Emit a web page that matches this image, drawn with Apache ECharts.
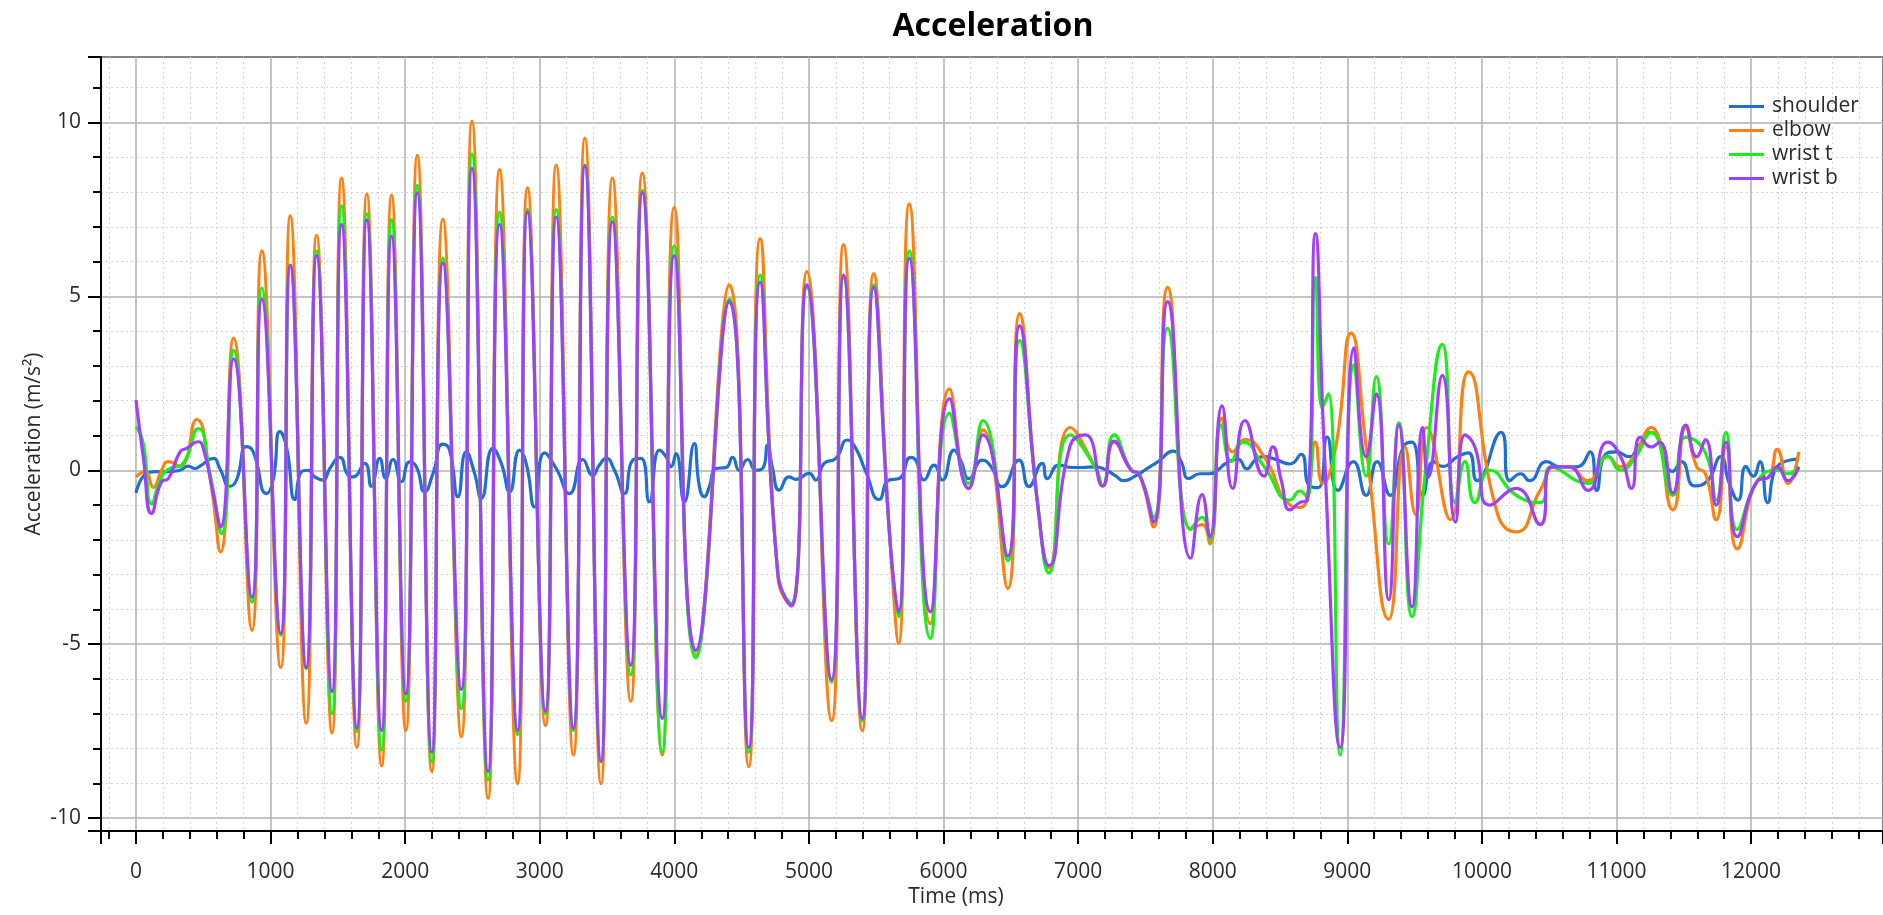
<!DOCTYPE html>
<html>
<head>
<meta charset="utf-8">
<script src="https://cdn.jsdelivr.net/npm/echarts@6/dist/echarts.min.js"></script>
<style>
html,body{margin:0;padding:0;background:#fff;}
#chart{width:1883px;height:915px;}
</style>
</head>
<body>
<div id="chart"></div>
<script>
// ---- data: [time (ms), acceleration (m/s^2)] ----
const seriesNames = ['shoulder', 'elbow', 'wrist t', 'wrist b'];
const seriesColors = ['#1f6fd0', '#ff8010', '#1aee1a', '#9f3fff'];

const shoulder = [[0,-0.65],[79,-0.09],[141,-0.04],[228,-0.04],[327,0],[388,0.12],[438,0.05],[475,0.12],[574,0.34],[623,0.05],[698,-0.46],[747,-0.28],[821,0.68],[871,0.53],[970,-0.67],[1019,-0.28],[1069,1.11],[1118,0.68],[1180,-0.84],[1230,-0.04],[1279,0],[1328,-0.19],[1390,-0.28],[1440,0.05],[1514,0.37],[1576,-0.14],[1613,-0.19],[1700,0.2],[1749,-0.46],[1811,0.34],[1855,-0.23],[1910,0.31],[1972,-0.33],[2033,0.24],[2083,0.1],[2145,-0.62],[2207,-0.09],[2281,0.75],[2330,0.58],[2392,-0.76],[2454,0.53],[2516,-0.09],[2565,-0.81],[2652,0.63],[2714,0.2],[2776,-0.62],[2850,0.58],[2899,0.2],[2961,-1.05],[3035,0.5],[3122,0.05],[3221,-0.67],[3320,0.31],[3394,-0.14],[3443,0.15],[3493,0.34],[3555,0],[3629,-0.67],[3691,0.29],[3753,0.34],[3814,-0.91],[3889,0.58],[3938,0.39],[3975,0.1],[4012,0.48],[4074,-0.91],[4148,0.77],[4186,-0.47],[4223,-0.76],[4260,-0.47],[4309,0.05],[4383,0.08],[4433,0.37],[4482,0],[4544,0.31],[4606,0],[4656,0.05],[4693,0.72],[4730,0.05],[4779,-0.57],[4853,-0.19],[4903,-0.26],[5002,-0.09],[5051,-0.28],[5113,0.2],[5200,0.34],[5286,0.87],[5348,0.63],[5422,-0.04],[5521,-0.84],[5595,-0.28],[5670,-0.24],[5756,0.37],[5793,0.29],[5855,-0.28],[5930,0.15],[5991,-0.28],[6078,0.58],[6127,0.29],[6189,-0.24],[6288,0.29],[6350,0.12],[6437,-0.47],[6560,0.29],[6634,-0.47],[6733,0.2],[6771,-0.24],[6857,0.15],[6956,0.08],[7030,0.08],[7125,0.1],[7210,0],[7281,-0.17],[7338,-0.3],[7423,-0.17],[7509,0.04],[7594,0.25],[7708,0.55],[7765,0.25],[7822,-0.24],[7907,-0.1],[7978,-0.1],[8049,0.04],[8090,0.18],[8187,0.32],[8252,0.04],[8317,0.3],[8381,0.39],[8462,0.32],[8575,0.18],[8656,0.46],[8720,-0.45],[8785,-0.5],[8850,0.95],[8930,-0.58],[9044,0.25],[9140,-0.72],[9221,0.25],[9318,-0.72],[9415,0.67],[9480,0.81],[9560,-0.72],[9641,0.25],[9706,0.11],[9819,0.39],[9900,0.5],[9964,-0.3],[10142,1.09],[10207,-0.3],[10288,-0.1],[10352,-0.3],[10481,0.25],[10578,0.1],[10708,0.1],[10804,0.53],[10853,-0.58],[10918,0.46],[10998,0.53],[11095,0.39],[11160,0.67],[11257,1.09],[11418,-0.03],[11483,0.25],[11580,-0.45],[11677,-0.3],[11774,0.39],[11838,-0.38],[11903,-0.86],[11961,0.11],[12016,-0.17],[12065,0.25],[12123,-0.93],[12194,0.11],[12355,0.32]];

const elbow = [[0,-0.19],[67,-0.04],[129,-0.49],[190,0],[240,0.25],[327,0.12],[450,1.46],[549,-0.19],[628,-2.35],[725,3.8],[861,-4.6],[935,6.31],[1075,-5.67],[1146,7.31],[1265,-7.27],[1342,6.75],[1456,-7.55],[1527,8.4],[1641,-7.97],[1715,7.94],[1825,-8.5],[1899,7.91],[2005,-7.48],[2090,9.05],[2198,-8.66],[2280,7.21],[2417,-7.66],[2496,10.03],[2616,-9.43],[2701,8.64],[2835,-9.01],[2909,8.12],[3042,-7.34],[3122,8.77],[3250,-8.18],[3335,9.55],[3455,-9.01],[3540,8.4],[3676,-6.64],[3762,8.54],[3910,-8.18],[4000,7.56],[4159,-5.32],[4409,5.33],[4552,-8.52],[4637,6.66],[4770,-3.1],[4870,-3.9],[4984,5.71],[5168,-7.2],[5257,6.49],[5396,-7.48],[5481,5.65],[5600,-1.9],[5666,-4.97],[5746,7.66],[5902,-4.41],[6044,2.34],[6186,-0.52],[6292,1.16],[6477,-3.4],[6565,4.5],[6700,-1.0],[6784,-2.81],[6940,1.23],[7125,0.1],[7182,-0.45],[7267,0.81],[7395,0.0],[7452,-0.1],[7560,-1.63],[7665,5.26],[7836,-1.7],[7921,-1.56],[7978,-2.12],[8069,1.5],[8148,0.53],[8239,0.88],[8381,0.39],[8575,-1.0],[8646,-1.07],[8704,-0.72],[8763,0.81],[8817,-0.38],[8914,0.67],[9027,3.94],[9140,0.67],[9308,-4.28],[9428,0.67],[9509,-1.28],[9590,1.23],[9765,-1.42],[9900,2.83],[10118,-1.28],[10255,-1.77],[10433,-0.58],[10546,0.1],[10643,0.1],[10788,-0.3],[10934,0.4],[11031,0.1],[11111,0.3],[11257,1.23],[11418,-1.14],[11515,1.23],[11596,0.1],[11661,-0.1],[11741,-1.42],[11813,0.67],[11897,-2.26],[12049,-0.3],[12129,-0.2],[12194,0.6],[12275,-0.38],[12355,0.53]];

const wristT = [[0,1.25],[54,0.77],[116,-0.96],[190,-0.19],[252,0.05],[339,0.15],[463,1.2],[549,-0.09],[636,-1.82],[725,3.45],[861,-3.79],[935,5.24],[1075,-4.74],[1146,5.9],[1265,-5.7],[1342,6.3],[1456,-6.99],[1527,7.6],[1641,-7.5],[1715,7.38],[1825,-8.04],[1899,7.2],[2005,-6.64],[2090,8.19],[2198,-8.38],[2280,6.1],[2417,-6.85],[2496,9.09],[2616,-8.9],[2701,7.42],[2835,-7.6],[2909,7.49],[3042,-7.0],[3122,7.49],[3250,-7.48],[3335,8.77],[3455,-8.38],[3540,7.28],[3676,-5.88],[3762,8.05],[3910,-8.1],[4000,6.45],[4159,-5.39],[4409,4.92],[4552,-8.1],[4637,5.61],[4770,-3.0],[4870,-3.85],[4984,5.26],[5168,-6.09],[5257,5.54],[5396,-7.2],[5481,5.33],[5600,-1.9],[5666,-4.21],[5746,6.31],[5902,-4.83],[6044,1.64],[6186,-0.38],[6292,1.43],[6477,-2.6],[6565,3.73],[6700,-1.0],[6784,-2.95],[6940,1.02],[7125,0.1],[7182,-0.45],[7267,1.02],[7395,0.0],[7452,-0.1],[7560,-1.35],[7665,4.08],[7836,-1.7],[7921,-1.35],[7978,-1.98],[8065,1.3],[8139,0.25],[8226,0.81],[8381,0.11],[8575,-0.86],[8646,-0.6],[8704,-0.8],[8763,5.54],[8815,1.8],[8859,2.2],[8947,-8.18],[9050,3.04],[9140,-0.17],[9215,2.69],[9308,-2.12],[9383,1.36],[9480,-4.21],[9577,-0.17],[9706,3.62],[9803,-0.93],[9874,0.25],[9948,-0.93],[10061,0.0],[10255,-0.72],[10433,-0.93],[10514,0.1],[10788,-0.38],[10934,0.39],[11031,0.0],[11128,0.3],[11257,1.09],[11418,-0.72],[11515,0.95],[11661,0.5],[11741,-0.86],[11813,1.09],[11897,-1.7],[12049,-0.3],[12194,0.0],[12275,-0.1],[12355,0.1]];

const wristB = [[0,2.02],[54,0.39],[116,-1.24],[190,-0.33],[240,-0.24],[327,0.53],[376,0.63],[463,0.82],[500,0.63],[574,-0.67],[628,-1.63],[725,3.2],[861,-3.65],[935,4.92],[1075,-4.69],[1146,5.89],[1265,-5.67],[1342,6.17],[1456,-6.36],[1527,7.07],[1641,-7.41],[1715,7.2],[1825,-7.48],[1899,6.73],[2005,-6.43],[2090,7.98],[2198,-8.1],[2280,5.96],[2417,-6.3],[2496,8.68],[2616,-8.66],[2701,7.07],[2835,-7.48],[2909,7.42],[3042,-6.92],[3122,7.28],[3250,-7.41],[3335,8.75],[3455,-8.36],[3540,7.14],[3676,-5.6],[3762,7.98],[3910,-7.13],[4000,6.17],[4159,-5.18],[4409,4.85],[4552,-7.97],[4637,5.4],[4770,-3.0],[4870,-3.9],[4984,5.33],[5168,-6.02],[5257,5.61],[5396,-7.13],[5481,5.26],[5600,-1.9],[5666,-4.07],[5746,6.1],[5902,-4.07],[6044,2.06],[6186,-0.52],[6292,1.02],[6477,-2.47],[6565,4.15],[6700,-1.0],[6784,-2.74],[6940,0.7],[7054,1.02],[7182,-0.45],[7267,0.84],[7395,0.0],[7452,-0.1],[7560,-1.49],[7665,4.85],[7836,-2.53],[7921,-0.7],[7978,-1.91],[8069,1.85],[8148,-0.52],[8239,1.43],[8381,-0.17],[8446,0.67],[8510,-0.3],[8575,-1.14],[8646,-0.93],[8704,-0.86],[8763,6.8],[8830,0.5],[8947,-7.97],[9050,3.52],[9140,0.39],[9215,2.2],[9308,-3.72],[9383,1.3],[9480,-3.93],[9560,1.23],[9600,-0.2],[9706,2.73],[9803,-1.49],[9874,1.02],[9948,0.67],[10061,-1.0],[10255,-0.52],[10433,-1.56],[10514,0.1],[10643,0.1],[10788,-0.58],[10934,0.81],[11031,0.39],[11111,-0.52],[11176,0.95],[11257,0.67],[11320,0.81],[11418,-0.65],[11515,1.3],[11596,0.39],[11661,0.88],[11741,-1.0],[11813,0.81],[11897,-1.91],[12049,-0.3],[12129,-0.2],[12194,0.1],[12275,-0.3],[12355,0.1]];

const seriesData = [shoulder, elbow, wristT, wristB];

// ---- chart ----
const FONT = "'Open Sans', 'Noto Sans', sans-serif";
const TXT = '#2b2b2b';
const chart = echarts.init(document.getElementById('chart'), null, {renderer: 'canvas'});

const option = {
  animation: false,
  backgroundColor: '#ffffff',
  title: {
    text: 'Acceleration',
    left: 988,
    top: 6,
    textAlign: 'center',
    textStyle: {fontFamily: FONT, fontSize: 32, fontWeight: 'bold', color: '#000'}
  },
  legend: {
    orient: 'vertical',
    left: 1724,
    top: 91,
    icon: 'rect',
    itemWidth: 35,
    itemHeight: 3,
    itemGap: 3,
    data: seriesNames,
    textStyle: {fontFamily: FONT, fontSize: 21, color: TXT, padding: [0, 0, 0, 3]}
  },
  grid: {
    left: 101, top: 57, right: -2, bottom: 84,
    show: true, borderColor: '#000', borderWidth: 2, backgroundColor: 'transparent'
  },
  xAxis: [{
    type: 'value',
    min: -260, max: 12980,
    minInterval: 1000, maxInterval: 1000,
    axisLine: {show: true, onZero: false, lineStyle: {color: '#000', width: 2}},
    axisTick: {show: true, length: 13, lineStyle: {color: '#000', width: 2}},
    minorTick: {show: true, splitNumber: 5, length: 8, lineStyle: {color: '#000', width: 2}},
    axisLabel: {showMinLabel: false, showMaxLabel: false, margin: 31, fontFamily: FONT, fontSize: 21, color: TXT,
      formatter: v => String(v)},
    splitLine: {show: true, lineStyle: {color: '#b0b0b0', width: 1.5}},
    minorSplitLine: {show: true, lineStyle: {color: '#d4d4d4', width: 1, type: [2, 3]}}
  }],
  yAxis: [{
    type: 'value',
    min: -10.37, max: 11.88,
    minInterval: 5, maxInterval: 5,
    name: 'Acceleration (m/s²)',
    nameLocation: 'middle',
    nameGap: 56,
    nameMoveOverlap: false,
    nameRotate: 90,
    nameTextStyle: {fontFamily: FONT, fontSize: 21, color: TXT},
    axisLine: {show: true, onZero: false, lineStyle: {color: '#000', width: 2}},
    axisTick: {show: true, length: 13, lineStyle: {color: '#000', width: 2}},
    minorTick: {show: true, splitNumber: 5, length: 8, lineStyle: {color: '#000', width: 2}},
    axisLabel: {showMinLabel: false, showMaxLabel: false, margin: 20, fontFamily: FONT, fontSize: 21, color: TXT,
      formatter: v => String(v)},
    splitLine: {show: true, lineStyle: {color: '#b0b0b0', width: 1.5}},
    minorSplitLine: {show: true, lineStyle: {color: '#d4d4d4', width: 1, type: [2, 3]}}
  }],
  graphic: [{
    type: 'text',
    x: 956, y: 897,
    style: {text: 'Time (ms)', fill: TXT, font: "21px 'Open Sans', 'Noto Sans', sans-serif", textAlign: 'center', textVerticalAlign: 'middle'}
  }],
  series: seriesNames.map((name, i) => ({
    name: name,
    type: 'line',
    data: seriesData[i],
    smooth: 0.55,
    showSymbol: false,
    symbol: 'none',
    color: seriesColors[i],
    lineStyle: {width: 3.2, color: seriesColors[i]},
    z: 2 + i
  }))
};
chart.setOption(option);
</script>
</body>
</html>
